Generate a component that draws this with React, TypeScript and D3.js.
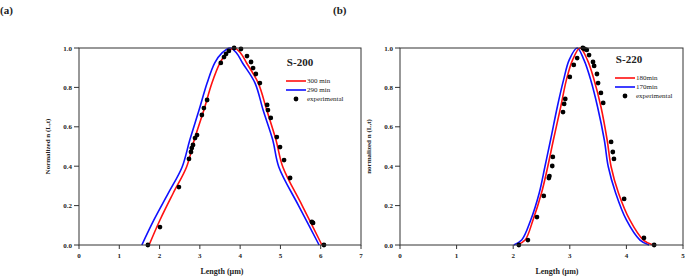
import React from "react";
import * as d3 from "d3";

type P = [number, number];

// Panel (a) S-200
const aRed300: P[] = [[1.74,0],[2.01,0.127],[2.34,0.264],[2.67,0.396],[2.86,0.533],[3.10,0.685],[3.30,0.822],[3.50,0.924],[3.67,0.975],[3.85,1.0],[4.01,0.975],[4.16,0.924],[4.45,0.822],[4.66,0.685],[4.89,0.533],[5.06,0.396],[5.54,0.2],[6.03,0]];
const aBlue290: P[] = [[1.56,0],[1.86,0.127],[2.22,0.264],[2.56,0.396],[2.75,0.533],[2.98,0.685],[3.18,0.822],[3.37,0.924],[3.55,0.975],[3.75,1.0],[3.91,0.975],[4.06,0.924],[4.37,0.822],[4.57,0.685],[4.81,0.533],[4.96,0.396],[5.45,0.2],[5.96,0]];
const aExp: P[] = [[1.71,0],[2.01,0.091],[2.48,0.294],[2.73,0.437],[2.78,0.472],[2.80,0.492],[2.83,0.508],[2.88,0.543],[2.93,0.558],[3.05,0.66],[3.10,0.695],[3.18,0.736],[3.52,0.924],[3.60,0.954],[3.65,0.97],[3.72,0.985],[3.85,1.0],[4.02,0.995],[4.17,0.959],[4.27,0.929],[4.32,0.898],[4.39,0.868],[4.49,0.822],[4.67,0.711],[4.69,0.685],[4.76,0.645],[4.91,0.548],[4.99,0.497],[5.09,0.431],[5.24,0.340],[5.78,0.117],[5.81,0.112],[6.08,0]];

// Panel (b) S-220
const bRed180: P[] = [[2.07,0],[2.21,0.025],[2.35,0.127],[2.50,0.264],[2.61,0.397],[2.71,0.533],[2.84,0.702],[2.94,0.838],[3.05,0.94],[3.18,1.0],[3.31,0.94],[3.43,0.838],[3.55,0.702],[3.66,0.533],[3.73,0.397],[3.86,0.264],[4.06,0.127],[4.30,0.025],[4.47,0]];
const bBlue170: P[] = [[2.01,0],[2.15,0.025],[2.31,0.127],[2.46,0.264],[2.56,0.397],[2.66,0.533],[2.78,0.702],[2.89,0.838],[2.99,0.94],[3.13,1.0],[3.25,0.94],[3.37,0.838],[3.49,0.702],[3.61,0.533],[3.68,0.397],[3.81,0.264],[4.00,0.127],[4.24,0.025],[4.40,0]];
const bExp: P[] = [[2.10,0],[2.26,0.025],[2.42,0.142],[2.54,0.249],[2.63,0.340],[2.64,0.350],[2.69,0.401],[2.70,0.447],[2.88,0.675],[2.90,0.716],[2.92,0.741],[3.00,0.853],[3.07,0.914],[3.13,0.949],[3.23,1.0],[3.26,0.995],[3.30,0.99],[3.34,0.964],[3.41,0.929],[3.43,0.909],[3.48,0.868],[3.50,0.822],[3.55,0.772],[3.59,0.721],[3.73,0.523],[3.76,0.472],[3.78,0.437],[3.96,0.234],[4.31,0.036],[4.49,0]];

const yTicks = [0, 0.2, 0.4, 0.6, 0.8, 1.0];
const aXTicks = [0, 1, 2, 3, 4, 5, 6, 7];
const bXTicks = [0, 1, 2, 3, 4, 5];

const SERIF = "'Liberation Serif', 'Times New Roman', serif";

interface PanelProps {
  x0: number; x1: number; y0: number; y1: number;
  xMax: number; xTicks: number[];
  red: P[]; blue: P[]; exp: P[];
  yLabel: string; title: string; redLabel: string; blueLabel: string;
  lx: number; ly: number; xLabelX: number;
}

function Panel(p: PanelProps) {
  const x = d3.scaleLinear().domain([0, p.xMax]).range([p.x0, p.x1]);
  const y = d3.scaleLinear().domain([0, 1]).range([p.y1, p.y0]);
  const line = d3.line<P>().x(d => x(d[0])).y(d => y(d[1])).curve(d3.curveCatmullRom.alpha(0.5));
  const axisColor = "#333";
  return (
    <g>
      <path d={line(p.blue) || ""} fill="none" stroke="#1010ff" strokeWidth={1.6} />
      <path d={line(p.red) || ""} fill="none" stroke="#ff1010" strokeWidth={1.6} />
      {p.exp.map((d, i) => (
        <circle key={i} cx={x(d[0])} cy={y(d[1])} r={2.4} fill="#000" />
      ))}
      <rect x={p.x0} y={p.y0} width={p.x1 - p.x0} height={p.y1 - p.y0} fill="none" stroke={axisColor} strokeWidth={1} />
      {yTicks.map(t => (
        <g key={"y" + t}>
          <line x1={p.x0 - 5} x2={p.x0} y1={y(t)} y2={y(t)} stroke={axisColor} />
          <text x={p.x0 - 7} y={y(t) + 2.5} fontSize={7} textAnchor="end" fontFamily={SERIF} fontWeight="bold" fill="#222">{t.toFixed(1)}</text>
        </g>
      ))}
      {p.xTicks.map(t => (
        <g key={"x" + t}>
          <line x1={x(t)} x2={x(t)} y1={p.y1} y2={p.y1 + 4} stroke={axisColor} />
          <text x={x(t)} y={p.y1 + 13} fontSize={7} textAnchor="middle" fontFamily={SERIF} fontWeight="bold" fill="#222">{t}</text>
        </g>
      ))}
      <text x={p.xLabelX} y={274} fontSize={8} textAnchor="middle" fontFamily={SERIF} fontWeight="bold" fill="#222">Length (µm)</text>
      <text transform={`translate(${p.x0 - 29},${(p.y0 + p.y1) / 2}) rotate(-90)`} fontSize={7} textAnchor="middle" fontFamily={SERIF} fontWeight="bold" fill="#222">{p.yLabel}</text>
      <text x={p.lx + 14} y={p.ly} fontSize={11} textAnchor="middle" fontFamily={SERIF} fontWeight="bold" fill="#222">{p.title}</text>
      <line x1={p.lx} x2={p.lx + 20} y1={p.ly + 15} y2={p.ly + 15} stroke="#ff1010" strokeWidth={1.6} />
      <text x={p.lx + 21} y={p.ly + 17} fontSize={7} fontFamily={SERIF} fill="#222">{p.redLabel}</text>
      <line x1={p.lx} x2={p.lx + 20} y1={p.ly + 24} y2={p.ly + 24} stroke="#1010ff" strokeWidth={1.6} />
      <text x={p.lx + 21} y={p.ly + 26} fontSize={7} fontFamily={SERIF} fill="#222">{p.blueLabel}</text>
      <circle cx={p.lx + 10} cy={p.ly + 33} r={2.4} fill="#000" />
      <text x={p.lx + 21} y={p.ly + 35} fontSize={7} fontFamily={SERIF} fill="#222">experimental</text>
    </g>
  );
}

export default function App() {
  return (
    <svg width={685} height={278} style={{ position: "absolute", left: 0, top: 0, background: "#fff" }}>
      <text x={0} y={14} fontSize={11} fontFamily={SERIF} fontWeight="bold" fill="#222">(a)</text>
      <text x={333} y={14} fontSize={11} fontFamily={SERIF} fontWeight="bold" fill="#222">(b)</text>
      <Panel x0={79} x1={361} y0={48} y1={245} xMax={7} xTicks={aXTicks}
        red={aRed300} blue={aBlue290} exp={aExp}
        yLabel="Normalized n (L,t)" title="S-200" redLabel="300 min" blueLabel="290 min" lx={286} ly={66} xLabelX={222} />
      <Panel x0={400} x1={683} y0={48} y1={245} xMax={5} xTicks={bXTicks}
        red={bRed180} blue={bBlue170} exp={bExp}
        yLabel="normalized n (L,t)" title="S-220" redLabel="180min" blueLabel="170min" lx={615} ly={63} xLabelX={557} />
    </svg>
  );
}
